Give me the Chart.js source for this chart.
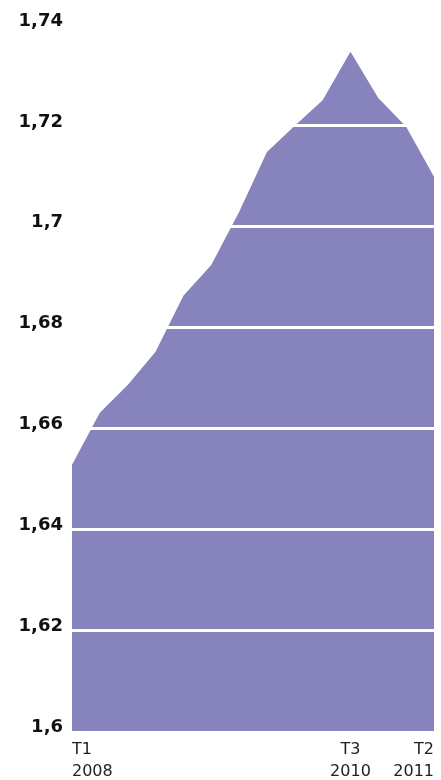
<!DOCTYPE html>
<html>
<head>
<meta charset="utf-8">
<script src="https://cdn.jsdelivr.net/npm/chart.js@4.4.1/dist/chart.umd.min.js"></script>
<style>
  html, body { margin: 0; padding: 0; background: #fff; }
  #wrap { width: 441px; height: 780px; position: relative; }
</style>
</head>
<body>
<div id="wrap"><canvas id="chart"></canvas></div>
<script>
// quarters T1 2008 .. T2 2011
const quarters = ['T1 2008', 'T2 2008', 'T3 2008', 'T4 2008',
                  'T1 2009', 'T2 2009', 'T3 2009', 'T4 2009',
                  'T1 2010', 'T2 2010', 'T3 2010', 'T4 2010',
                  'T1 2011', 'T2 2011'];
const values = [1.6528, 1.6631, 1.6686, 1.6752, 1.6863, 1.6924, 1.7029,
                1.7148, 1.7200, 1.7251, 1.7347, 1.7255, 1.7198, 1.7099];
// only these quarters get a label on the x axis
const shownLabels = { 'T1 2008': ['T1', '2008'], 'T3 2010': ['T3', '2010'], 'T2 2011': ['T2', '2011'] };
const yMin = 1.6, yMax = 1.74, yStep = 0.02;

const fillColor = '#8783bd';

new Chart(document.getElementById('chart'), {
  type: 'line',
  data: {
    labels: quarters,
    datasets: [{
      data: values,
      fill: 'start',
      backgroundColor: fillColor,
      borderColor: fillColor,
      borderWidth: 0,
      pointRadius: 0,
      tension: 0,
    }],
  },
  options: {
    responsive: true, maintainAspectRatio: false, animation: false,
    layout: { padding: { top: 25, right: 7, left: 0, bottom: 0 } },
    plugins: { legend: { display: false }, tooltip: { enabled: false } },
    scales: {
      x: {
        grid: { display: false },
        border: { display: false },
        afterFit: s => { s.height = 49; },
        ticks: {
          autoSkip: false, maxRotation: 0, align: 'inner', padding: 0,
          color: '#222',
          font: { family: 'DejaVu Sans', size: 16, lineHeight: 1.35 },
          callback: function (v) { return shownLabels[this.getLabelForValue(v)] || ''; },
        },
      },
      y: {
        min: yMin, max: yMax,
        afterFit: s => { s.width = 72; },
        border: { display: false },
        grid: {
          z: 1, drawTicks: false, lineWidth: 3,
          color: ctx => (ctx.tick && Math.abs(ctx.tick.value - yMin) < 1e-9) ? 'rgba(0,0,0,0)' : '#ffffff',
        },
        ticks: {
          stepSize: yStep, padding: 9, labelOffset: -4,
          color: '#111',
          font: { family: 'DejaVu Sans', weight: 'bold', size: 18 },
          callback: v => String(+v.toFixed(2)).replace('.', ','),
        },
      },
    },
  },
});
</script>
</body>
</html>
